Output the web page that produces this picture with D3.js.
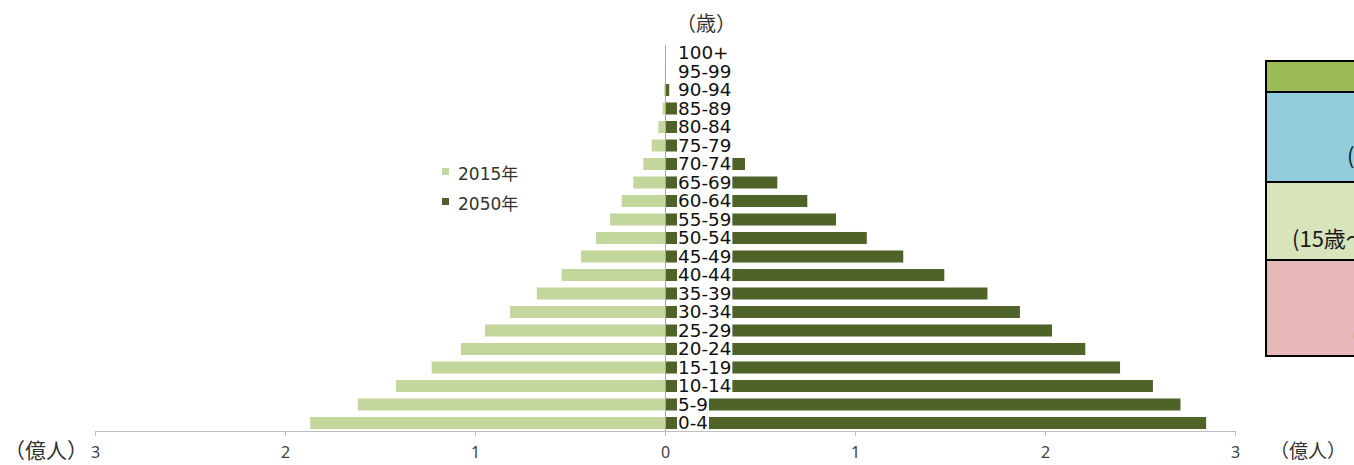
<!DOCTYPE html>
<html>
<head>
<meta charset="utf-8">
<script src="https://cdn.jsdelivr.net/npm/d3@7"></script>
<style>
  html, body { margin: 0; padding: 0; background: #fff; overflow: hidden; }
  svg { display: block; }
</style>
</head>
<body>
<svg id="chart" width="1354" height="465"></svg>
<script>
// Age groups, youngest first
const ages = ["0-4","5-9","10-14","15-19","20-24","25-29","30-34","35-39","40-44","45-49",
              "50-54","55-59","60-64","65-69","70-74","75-79","80-84","85-89","90-94","95-99","100+"];
// Population by age group (億人)
const pop2015 = [1.867, 1.617, 1.416, 1.228, 1.074, 0.947, 0.816, 0.675, 0.544, 0.442,
                 0.363, 0.289, 0.228, 0.167, 0.114, 0.070, 0.035, 0.012, 0.004, 0.0008, 0.0001];
const pop2050 = [2.848, 2.713, 2.568, 2.395, 2.212, 2.037, 1.868, 1.697, 1.470, 1.254,
                 1.062, 0.900, 0.749, 0.591, 0.421, 0.270, 0.150, 0.065, 0.022, 0.004, 0.0005];
const seriesNames = ["2015年", "2050年"];
const tickValues = [0, 1, 2, 3];
const unitLabel = "（億人）";
const ageTitle = "（歳）";

// Side table (age classes)
const tableRows = ["", "(0～14歳)", "(15歳～64歳)", "(65歳以上)"];

const colors = { y2015: "#c3d69b", y2050: "#4f6228" };
const svg = d3.select("#chart");

const zeroX = 665, unitPx = 190;
const xLeft = d3.scaleLinear().domain([0, 3]).range([zeroX, zeroX - 3 * unitPx]);
const xRight = d3.scaleLinear().domain([0, 3]).range([zeroX, zeroX + 3 * unitPx]);
const y = d3.scaleBand()
  .domain(ages.slice().reverse())
  .range([43.75, 432.25])
  .paddingInner(0.35)
  .paddingOuter(0.175);

const rows = ages.map((a, i) => ({ age: a, v15: pop2015[i], v50: pop2050[i] }));

// 2015 bars (left)
svg.append("g").selectAll("rect").data(rows).join("rect")
  .attr("x", d => xLeft(d.v15))
  .attr("y", d => y(d.age))
  .attr("width", d => xLeft(0) - xLeft(d.v15))
  .attr("height", y.bandwidth())
  .attr("fill", colors.y2015);

// 2050 bars (right)
svg.append("g").selectAll("rect").data(rows).join("rect")
  .attr("x", xRight(0))
  .attr("y", d => y(d.age))
  .attr("width", d => xRight(d.v50) - xRight(0))
  .attr("height", y.bandwidth())
  .attr("fill", colors.y2050);

// zero line
svg.append("line")
  .attr("x1", zeroX + 0.5).attr("x2", zeroX + 0.5)
  .attr("y1", 45).attr("y2", 431)
  .attr("stroke", "#a6a6a6").attr("stroke-width", 1);

// age labels on white plates
const labelX = 677, stretch = 1.08;
const lab = svg.append("g").selectAll("g").data(rows).join("g")
  .attr("transform", d => `translate(${labelX},${y(d.age) + y.bandwidth() / 2})`);
const plates = lab.append("rect").attr("fill", "#fff");
const texts = lab.append("text")
  .attr("transform", `scale(${stretch},1)`)
  .attr("x", 1)
  .attr("y", 6.2)
  .attr("font-family", "DejaVu Sans, Verdana, sans-serif")
  .attr("font-size", 17)
  .attr("fill", "#111")
  .text(d => d.age);
texts.each(function() {
  const w = this.getComputedTextLength() * stretch;
  d3.select(this.parentNode).select("rect")
    .attr("x", 0).attr("y", -y.step() / 2)
    .attr("width", w + 2).attr("height", y.step());
});

// x axes
const axisY = 431;
function styleAxis(g) {
  g.select(".domain").attr("stroke", "#bfbfbf");
  g.selectAll(".tick line").attr("stroke", "#bfbfbf");
  g.selectAll(".tick text")
    .attr("fill", "#404040")
    .attr("font-family", "Noto Sans, sans-serif")
    .attr("font-size", 16);
}
svg.append("g").attr("transform", `translate(0,${axisY})`)
  .call(d3.axisBottom(xLeft).tickValues(tickValues).tickFormat(d3.format("d"))
    .tickSize(5).tickSizeOuter(0).tickPadding(11))
  .call(styleAxis);
svg.append("g").attr("transform", `translate(0,${axisY})`)
  .call(d3.axisBottom(xRight).tickValues(tickValues.slice(1)).tickFormat(d3.format("d"))
    .tickSize(5).tickSizeOuter(0).tickPadding(11))
  .call(styleAxis);

// unit labels
const cjk = "Noto Sans CJK JP, sans-serif";
svg.append("text").attr("x", 46).attr("y", 458).attr("text-anchor", "middle")
  .attr("font-family", cjk).attr("font-size", 21).attr("fill", "#333").text(unitLabel);
svg.append("text").attr("x", 1308).attr("y", 458).attr("text-anchor", "middle")
  .attr("font-family", cjk).attr("font-size", 19).attr("fill", "#333").text(unitLabel);
svg.append("text").attr("x", 706).attr("y", 31).attr("text-anchor", "middle")
  .attr("font-family", cjk).attr("font-size", 20).attr("fill", "#333").text(ageTitle);

// legend
const legend = svg.append("g").selectAll("g")
  .data([{ name: seriesNames[0], c: colors.y2015 }, { name: seriesNames[1], c: colors.y2050 }])
  .join("g")
  .attr("transform", (d, i) => `translate(442,${168 + i * 30})`);
legend.append("rect").attr("width", 7).attr("height", 7).attr("fill", d => d.c);
legend.append("text").attr("x", 16).attr("y", 11.5)
  .attr("font-family", "DejaVu Sans, Noto Sans CJK JP, sans-serif")
  .attr("font-size", 17).attr("fill", "#333").text(d => d.name);

// side table
const tableTop = [61, 92, 182, 260, 356];
const tableFill = ["#9bbb59", "#92cddc", "#d7e4bc", "#e6b8b7"];
const textStart = [null, 1347, 1292, 1352];
const tbl = svg.append("g");
tableRows.forEach((t, i) => {
  tbl.append("rect")
    .attr("x", 1266).attr("y", tableTop[i])
    .attr("width", 200).attr("height", tableTop[i + 1] - tableTop[i])
    .attr("fill", tableFill[i]).attr("stroke", "#000").attr("stroke-width", 2);
  if (t) {
    const cy = i === 1 ? 156 : i === 2 ? 238.5 : 335;
    tbl.append("text").attr("x", textStart[i]).attr("y", cy + 8)
      .attr("font-family", cjk).attr("font-size", 22).attr("fill", "#1a1a1a").text(t);
  }
});
</script>
</body>
</html>
